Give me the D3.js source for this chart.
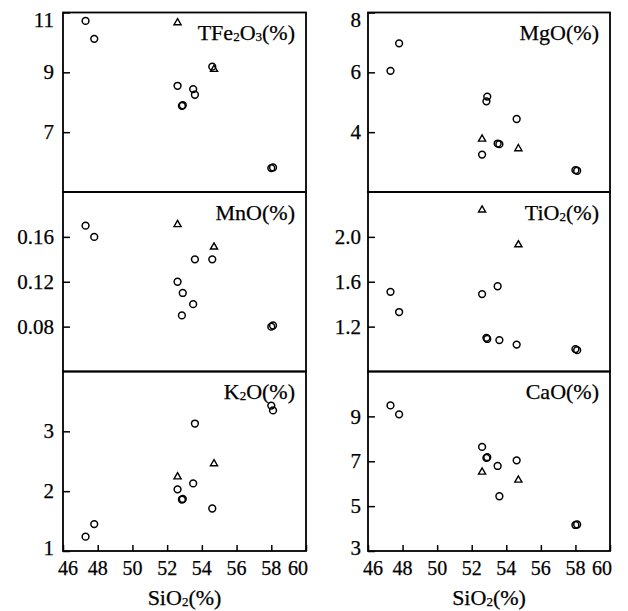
<!DOCTYPE html>
<html>
<head>
<meta charset="utf-8">
<script src="https://cdn.jsdelivr.net/npm/d3@7"></script>
<style>
  html, body { margin: 0; padding: 0; background: #fff; }
  svg text { font-family: "Liberation Serif", "Times New Roman", serif; fill: #000; }
</style>
</head>
<body>
<svg id="chart" width="628" height="611"></svg>
<script>
// SiO2 (%) of each sample: open circles and open triangles
const sio2Circle = [47.3, 47.8, 52.6, 52.85, 52.9, 53.5, 53.6, 54.6, 58.0, 58.1];
const sio2Tri = [52.6, 54.7];

// Oxide contents (%) in the same sample order
const tfe2o3Circle = [10.72, 10.12, 8.55, 7.88, 7.90, 8.44, 8.25, 9.19, 5.80, 5.82];
const tfe2o3Tri = [10.66, 9.10];
const mgoCircle = [6.05, 6.97, 3.25, 5.03, 5.19, 3.62, 3.60, 4.44, 2.73, 2.71];
const mgoTri = [3.77, 3.45];
const mnoCircle = [0.17, 0.16, 0.12, 0.09, 0.11, 0.10, 0.14, 0.14, 0.080, 0.081];
const mnoTri = [0.171, 0.151];
const tio2Circle = [1.51, 1.33, 1.49, 1.10, 1.09, 1.56, 1.08, 1.04, 1.00, 0.99];
const tio2Tri = [2.24, 1.93];
const k2oCircle = [1.24, 1.45, 2.03, 1.86, 1.87, 2.13, 3.13, 1.71, 3.43, 3.35];
const k2oTri = [2.24, 2.46];
const caoCircle = [9.49, 9.09, 7.64, 7.15, 7.18, 6.79, 5.44, 7.04, 4.16, 4.18];
const caoTri = [6.52, 6.16];

// Axis ticks
const xTicks = [46, 48, 50, 52, 54, 56, 58, 60];
const tfe2o3Ticks = [11, 9, 7];
const mgoTicks = [8, 6, 4];
const mnoTicks = [0.16, 0.12, 0.08];
const tio2Ticks = [2.0, 1.6, 1.2];
const k2oTicks = [3, 2, 1];
const caoTicks = [9, 7, 5, 3];

const svg = d3.select("#chart");

const cols = [[63, 306], [368, 610]];
const rowTop = [12.5, 192, 371.5];
const rowH = 179.5;

const panels = [
  { col: 0, row: 0, name: ["TFe", ["2"], "O", ["3"], "(%)"], domain: [5, 11], ticks: tfe2o3Ticks, fmt: d3.format("d"), c: tfe2o3Circle, t: tfe2o3Tri },
  { col: 1, row: 0, name: ["MgO(%)"], domain: [2, 8], ticks: mgoTicks, fmt: d3.format("d"), c: mgoCircle, t: mgoTri },
  { col: 0, row: 1, name: ["MnO(%)"], domain: [0.04, 0.20], ticks: mnoTicks, fmt: d3.format(".2f"), c: mnoCircle, t: mnoTri },
  { col: 1, row: 1, name: ["TiO", ["2"], "(%)"], domain: [0.8, 2.4], ticks: tio2Ticks, fmt: d3.format(".1f"), c: tio2Circle, t: tio2Tri },
  { col: 0, row: 2, name: ["K", ["2"], "O(%)"], domain: [1, 4], ticks: k2oTicks, fmt: d3.format("d"), c: k2oCircle, t: k2oTri },
  { col: 1, row: 2, name: ["CaO(%)"], domain: [3, 11], ticks: caoTicks, fmt: d3.format("d"), c: caoCircle, t: caoTri }
];

const tri = d3.symbol().type(d3.symbolTriangle).size(22);

panels.forEach(p => {
  const [x0, x1] = cols[p.col];
  const y0 = rowTop[p.row], y1 = y0 + rowH;
  const x = d3.scaleLinear().domain([46, 60]).range([x0, x1]);
  const y = d3.scaleLinear().domain(p.domain).range([y1, y0]);
  const g = svg.append("g");

  // y axis: ticks pointing into the plot
  const yAxis = d3.axisRight(y).tickValues(p.ticks).tickSize(7).tickFormat("");
  const ya = g.append("g").attr("transform", `translate(${x0},0)`).call(yAxis);
  ya.select(".domain").remove();
  ya.selectAll(".tick line").attr("stroke", "#000").attr("stroke-width", 1.5);

  const labelGap = p.col === 0 ? 9 : 7;
  g.selectAll(".ylab").data(p.ticks).join("text")
    .attr("x", x0 - labelGap)
    .attr("y", d => {
      let yy = y(d);
      if (Math.abs(yy - y0) < 1) yy += 7;
      if (Math.abs(yy - y1) < 1) yy -= 3;
      return yy;
    })
    .attr("dy", "0.34em")
    .attr("text-anchor", "end")
    .attr("font-size", 21)
    .attr("stroke", "#000").attr("stroke-width", 0.25)
    .text(d => p.fmt(d));

  // bottom row carries the SiO2 axis
  if (p.row === 2) {
    const xAxis = d3.axisTop(x).tickValues(xTicks).tickSize(6).tickFormat("");
    const xa = g.append("g").attr("transform", `translate(0,${y1})`).call(xAxis);
    xa.select(".domain").remove();
    xa.selectAll(".tick line").attr("stroke", "#000").attr("stroke-width", 1.5);
    g.selectAll(".xlab").data(xTicks).join("text")
      .attr("x", d => x(d) + (d === 46 ? 5 : d === 60 ? -8 : 0))
      .attr("y", y1 + 24)
      .attr("text-anchor", "middle")
      .attr("font-size", 20)
      .attr("stroke", "#000").attr("stroke-width", 0.25)
      .text(d => d);
    const title = g.append("text")
      .attr("x", (x0 + x1) / 2)
      .attr("y", y1 + 54)
      .attr("text-anchor", "middle")
      .attr("font-size", 22)
      .attr("stroke", "#000").attr("stroke-width", 0.25);
    title.append("tspan").text("SiO");
    title.append("tspan").attr("font-size", 13).attr("dy", 1).text("2");
    title.append("tspan").attr("dy", -1).text("(%)");
  }

  // panel frame
  g.append("rect")
    .attr("x", x0).attr("y", y0)
    .attr("width", x1 - x0).attr("height", rowH)
    .attr("fill", "none").attr("stroke", "#000").attr("stroke-width", 1.8);

  // oxide name in the upper right corner
  const lab = g.append("text")
    .attr("x", x1 - 11)
    .attr("y", y0 + 27.5)
    .attr("text-anchor", "end")
    .attr("font-size", 22)
    .attr("stroke", "#000").attr("stroke-width", 0.25);
  let shifted = false;
  p.name.forEach(part => {
    if (Array.isArray(part)) {
      lab.append("tspan").attr("font-size", 13).attr("dy", shifted ? 0 : 1).text(part[0]);
      shifted = true;
    } else {
      lab.append("tspan").attr("dy", shifted ? -1 : 0).text(part);
      shifted = false;
    }
  });

  // samples
  g.selectAll(".c").data(p.c).join("circle")
    .attr("cx", (d, i) => x(sio2Circle[i]))
    .attr("cy", d => y(d))
    .attr("r", 3.4)
    .attr("fill", "none")
    .attr("stroke", "#000")
    .attr("stroke-width", 1.5);

  g.selectAll(".t").data(p.t).join("path")
    .attr("d", tri)
    .attr("transform", (d, i) => `translate(${x(sio2Tri[i])},${y(d)})`)
    .attr("fill", "none")
    .attr("stroke", "#000")
    .attr("stroke-width", 1.4);
});
</script>
</body>
</html>
